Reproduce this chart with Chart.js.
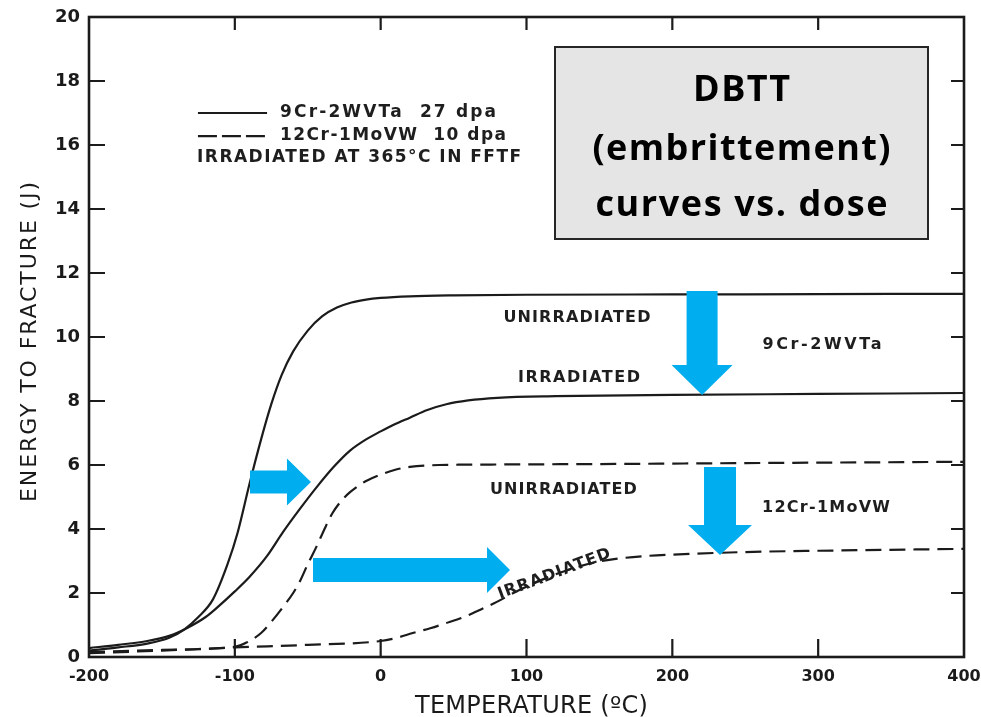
<!DOCTYPE html>
<html>
<head>
<meta charset="utf-8">
<title>DBTT curves vs. dose</title>
<style>
  html, body { margin: 0; padding: 0; background: #ffffff; }
  #wrap { width: 981px; height: 717px; }
</style>
<script src="https://cdn.jsdelivr.net/npm/chart.js@4.4.1/dist/chart.umd.min.js"></script>
</head>
<body>
<div id="wrap"><canvas id="chart" width="981" height="717"></canvas></div>
<script>
// Axis ticks
const tempTicks = [-200, -100, 0, 100, 200, 300, 400];
const energyTicks = [0, 2, 4, 6, 8, 10, 12, 14, 16, 18, 20];

// 9Cr-2WVTa, unirradiated (solid)
const temp9CrUnirr = [-200, -180, -160, -145, -135, -125, -115, -105, -98, -90, -82, -75, -68, -60, -50, -40, -30, -20, -10, 0, 20, 50, 100, 200, 300, 400];
const energy9CrUnirr = [0.20, 0.30, 0.42, 0.60, 0.85, 1.25, 1.80, 2.90, 3.90, 5.40, 6.80, 7.90, 8.80, 9.55, 10.20, 10.65, 10.92, 11.08, 11.17, 11.22, 11.27, 11.30, 11.32, 11.33, 11.34, 11.35];

// 9Cr-2WVTa, irradiated 27 dpa (solid)
const temp9CrIrr = [-200, -180, -160, -145, -133, -120, -112, -100, -90, -78, -67, -55, -44, -32, -21, -10, 0, 10, 20, 32, 45, 60, 80, 120, 200, 300, 400];
const energy9CrIrr = [0.28, 0.38, 0.50, 0.66, 0.90, 1.25, 1.55, 2.05, 2.50, 3.15, 3.90, 4.65, 5.30, 5.95, 6.45, 6.80, 7.05, 7.28, 7.48, 7.72, 7.90, 8.02, 8.10, 8.15, 8.19, 8.22, 8.25];

// 12Cr-1MoVW, unirradiated (dashed)
const temp12CrUnirr = [-200, -150, -100, -92, -82, -75, -67, -60, -55, -50, -44, -38, -33, -27, -21, -15, -10, 0, 10, 20, 40, 60, 100, 150, 250, 400];
const energy12CrUnirr = [0.15, 0.22, 0.32, 0.45, 0.75, 1.10, 1.56, 2.00, 2.40, 2.90, 3.45, 4.05, 4.50, 4.88, 5.15, 5.36, 5.50, 5.70, 5.85, 5.94, 6.00, 6.01, 6.02, 6.03, 6.06, 6.10];

// 12Cr-1MoVW, irradiated 10 dpa (dashed)
const temp12CrIrr = [-200, -150, -100, -50, 0, 11, 22, 34, 45, 57, 68, 80, 91, 103, 114, 126, 137, 148, 160, 180, 200, 250, 300, 400];
const energy12CrIrr = [0.12, 0.20, 0.30, 0.38, 0.50, 0.60, 0.75, 0.90, 1.06, 1.25, 1.47, 1.73, 2.00, 2.26, 2.48, 2.68, 2.84, 2.97, 3.06, 3.15, 3.20, 3.28, 3.32, 3.38];

// Curve labels inside the plot: [text, temperature, energy, angle in degrees]
const curveLabels = [
  ['UNIRRADIATED', 134.6, 10.60, 0],
  ['IRRADIATED', 136.0, 8.72, 0],
  ['UNIRRADIATED', 125.3, 5.22, 0],
  ['IRRADIATED', 119.0, 2.59, -20.5],
  ['9Cr-2WVTa', 302.6, 9.75, 0],
  ['12Cr-1MoVW', 305.4, 4.66, 0]
];
const curveLabelWidths = [147, 122, 147, 119, 119, 128];

// Key lines
const legendTexts = ['9Cr-2WVTa  27 dpa', '12Cr-1MoVW  10 dpa', 'IRRADIATED AT 365°C IN FFTF'];

// Shift arrows: tail and tip in (temperature, energy)
const arrowTails = [[-89.6, 5.47], [-46.4, 2.72], [220.4, 11.44], [232.7, 5.94]];
const arrowTips = [[-47.8, 5.47], [88.7, 2.72], [220.4, 8.19], [232.7, 3.19]];

const boxLines = ['DBTT', '(embrittement)', 'curves vs. dose'];

function pts(xs, ys) { return xs.map((x, i) => ({ x: x, y: ys[i] })); }

const INK = '#1b1b1b';
const ARROW_BLUE = '#00AEEF';

function curve(label, xs, ys, dashed) {
  return {
    label: label,
    data: pts(xs, ys),
    borderColor: INK,
    borderWidth: 2.2,
    borderDash: dashed ? [16, 8] : [],
    pointRadius: 0,
    fill: false,
    cubicInterpolationMode: 'monotone'
  };
}

// Text drawn at a given width by spreading the letters
function spacedText(ctx, text, cx, cy, width, angleDeg) {
  ctx.save();
  ctx.translate(cx, cy);
  if (angleDeg) ctx.rotate(angleDeg * Math.PI / 180);
  ctx.textBaseline = 'middle';
  if ('letterSpacing' in ctx) ctx.letterSpacing = '0px';
  const w0 = ctx.measureText(text).width;
  const n = Array.from(text).length;
  if ('letterSpacing' in ctx && n > 1) {
    const ls = (width - w0) / (n - 1);
    ctx.letterSpacing = ls.toFixed(2) + 'px';
    ctx.textAlign = 'left';
    ctx.fillText(text, -width / 2, 0);
  } else {
    ctx.scale(width / w0, 1);
    ctx.textAlign = 'center';
    ctx.fillText(text, 0, 0);
  }
  ctx.restore();
}

function blockArrow(ctx, x0, y0, x1, y1, shaft, headLen, headW) {
  const dx = x1 - x0, dy = y1 - y0;
  const len = Math.hypot(dx, dy);
  const ux = dx / len, uy = dy / len;
  const nx = -uy, ny = ux;
  const bx = x1 - ux * headLen, by = y1 - uy * headLen;
  ctx.beginPath();
  ctx.moveTo(x0 + nx * shaft / 2, y0 + ny * shaft / 2);
  ctx.lineTo(bx + nx * shaft / 2, by + ny * shaft / 2);
  ctx.lineTo(bx + nx * headW / 2, by + ny * headW / 2);
  ctx.lineTo(x1, y1);
  ctx.lineTo(bx - nx * headW / 2, by - ny * headW / 2);
  ctx.lineTo(bx - nx * shaft / 2, by - ny * shaft / 2);
  ctx.lineTo(x0 - nx * shaft / 2, y0 - ny * shaft / 2);
  ctx.closePath();
  ctx.fill();
}

const arrowSizes = [[23, 24, 47], [24, 23, 46], [31, 30, 61], [32, 30, 64]];

const decor = {
  id: 'decor',
  afterDatasetsDraw(chart) {
    const ctx = chart.ctx;
    const xs = chart.scales.x, ys = chart.scales.y;
    const X = v => xs.getPixelForValue(v), Y = v => ys.getPixelForValue(v);

    // curve labels
    ctx.save();
    ctx.fillStyle = '#1e1e1e';
    ctx.font = 'bold 16px "DejaVu Sans"';
    curveLabels.forEach((l, i) => {
      spacedText(ctx, l[0], X(l[1]), Y(l[2]), curveLabelWidths[i], l[3]);
    });

    // key
    ctx.strokeStyle = INK;
    ctx.lineWidth = 2.2;
    ctx.beginPath();
    ctx.moveTo(X(-125.3), Y(17.0));
    ctx.lineTo(X(-77.9), Y(17.0));
    ctx.stroke();
    ctx.setLineDash([19, 5]);
    ctx.beginPath();
    ctx.moveTo(X(-125.3), Y(16.28));
    ctx.lineTo(X(-77.9), Y(16.28));
    ctx.stroke();
    ctx.setLineDash([]);
    ctx.font = 'bold 17px "DejaVu Sans"';
    spacedText(ctx, legendTexts[0], X(-69.0) + 108, Y(17.0), 216, 0);
    spacedText(ctx, legendTexts[1], X(-69.0) + 113, Y(16.28), 226, 0);
    spacedText(ctx, legendTexts[2], X(-125.9) + 162, Y(15.6), 324, 0);

    // arrows
    ctx.fillStyle = ARROW_BLUE;
    arrowTails.forEach((t, i) => {
      const p = arrowTips[i], s = arrowSizes[i];
      blockArrow(ctx, X(t[0]), Y(t[1]), X(p[0]), Y(p[1]), s[0], s[1], s[2]);
    });
    ctx.restore();
  },
  afterDraw(chart) {
    const ctx = chart.ctx;
    const a = chart.chartArea;
    const xs = chart.scales.x, ys = chart.scales.y;
    ctx.save();
    if ('letterSpacing' in ctx) ctx.letterSpacing = '0px';

    // frame
    ctx.strokeStyle = INK;
    ctx.lineWidth = 2.6;
    ctx.strokeRect(a.left, a.top, a.right - a.left, a.bottom - a.top);

    // inward tick marks on all four sides
    ctx.lineWidth = 2.2;
    ctx.beginPath();
    tempTicks.slice(1, -1).forEach(v => {
      const px = xs.getPixelForValue(v);
      ctx.moveTo(px, a.bottom); ctx.lineTo(px, a.bottom - 18);
      ctx.moveTo(px, a.top); ctx.lineTo(px, a.top + 13);
    });
    energyTicks.slice(1, -1).forEach(v => {
      const py = ys.getPixelForValue(v);
      ctx.moveTo(a.left, py); ctx.lineTo(a.left + 16, py);
      ctx.moveTo(a.right, py); ctx.lineTo(a.right - 13, py);
    });
    ctx.stroke();

    // axis titles
    ctx.fillStyle = '#1a1a1a';
    ctx.font = '22px "DejaVu Sans"';
    spacedText(ctx, 'ENERGY TO FRACTURE (J)', a.left - 59, 342, 320, -90);
    ctx.font = '24px "DejaVu Sans"';
    spacedText(ctx, 'TEMPERATURE (ºC)', (a.left + a.right) / 2 + 5, a.bottom + 50, 233, 0);

    // caption box
    const bx = 555, by = 47, bw = 373, bh = 192;
    ctx.fillStyle = '#e5e5e5';
    ctx.fillRect(bx, by, bw, bh);
    ctx.strokeStyle = '#262626';
    ctx.lineWidth = 2;
    ctx.strokeRect(bx, by, bw, bh);
    ctx.fillStyle = '#000000';
    ctx.font = 'bold 36px "Open Sans"';
    const cx = bx + bw / 2;
    spacedText(ctx, boxLines[0], cx, 91, 97, 0);
    spacedText(ctx, boxLines[1], cx, 150, 298, 0);
    spacedText(ctx, boxLines[2], cx, 206, 292, 0);
    ctx.restore();
  }
};

new Chart(document.getElementById('chart').getContext('2d'), {
  type: 'line',
  data: {
    datasets: [
      curve('9Cr-2WVTa unirradiated', temp9CrUnirr, energy9CrUnirr, false),
      curve('9Cr-2WVTa irradiated', temp9CrIrr, energy9CrIrr, false),
      curve('12Cr-1MoVW unirradiated', temp12CrUnirr, energy12CrUnirr, true),
      curve('12Cr-1MoVW irradiated', temp12CrIrr, energy12CrIrr, true)
    ]
  },
  options: {
    responsive: false,
    animation: false,
    devicePixelRatio: 1,
    layout: { padding: { left: 0, right: 17, top: 17, bottom: 0 } },
    plugins: { legend: { display: false }, tooltip: { enabled: false } },
    scales: {
      x: {
        type: 'linear',
        min: -200,
        max: 400,
        afterBuildTicks: s => { s.ticks = tempTicks.map(v => ({ value: v })); },
        grid: { drawOnChartArea: false, drawTicks: false },
        border: { display: false },
        ticks: {
          autoSkip: false, maxRotation: 0, padding: 10, color: '#1a1a1a',
          font: { family: 'DejaVu Sans', size: 16, weight: 'bold' }
        },
        afterFit: s => { s.height = 60; s.paddingLeft = 0; s.paddingRight = 0; }
      },
      y: {
        type: 'linear',
        min: 0,
        max: 20,
        afterBuildTicks: s => { s.ticks = energyTicks.map(v => ({ value: v })); },
        grid: { drawOnChartArea: false, drawTicks: false },
        border: { display: false },
        ticks: {
          autoSkip: false, padding: 9, color: '#1a1a1a',
          font: { family: 'DejaVu Sans', size: 18, weight: 'bold' }
        },
        afterFit: s => { s.width = 89; s.paddingTop = 0; s.paddingBottom = 0; }
      }
    }
  },
  plugins: [decor]
});
</script>
</body>
</html>
